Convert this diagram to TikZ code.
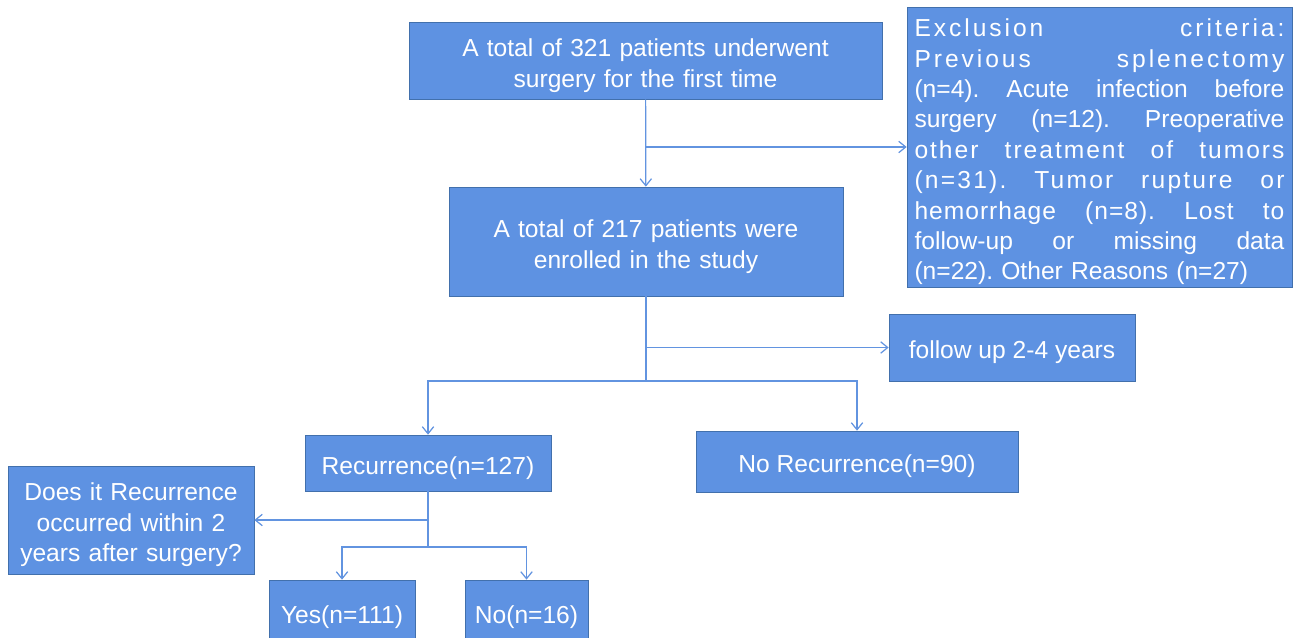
\documentclass[tikz,border=0pt]{standalone}
\usepackage{fontspec}
\setmainfont{Liberation Sans}
\usetikzlibrary{arrows,arrows.meta,shapes}
\definecolor{boxblue}{RGB}{94,146,226}
\definecolor{boxedge}{RGB}{66,112,172}
\definecolor{linkblue}{RGB}{98,148,224}
\newcommand{\exline}[1]{\leavevmode\hbox to 7.4cm{#1}}
\newcommand{\wide}[2][12]{{\addfontfeature{LetterSpace=#1}#2}}

\begin{document}
\begin{tikzpicture}[x=0.02cm,y=-0.02cm]

			\tikzstyle{every node}=[font=\fontsize{14}{17.3}\selectfont]
			\tikzstyle{box}=[rectangle, draw=boxedge, fill=boxblue, text=white, align=center, inner sep=0pt,
				execute at begin node={\rule{0pt}{15.8pt}}]
			\tikzstyle{link}=[-{Straight Barb[length=4pt,width=6.5pt]}, linkblue, line width=0.7pt]

			\useasboundingbox (0,0) rectangle (1301,637);

			\node[box, minimum width=9.46cm, minimum height=1.54cm, text width=9cm] (total) at (645.5,60.5) {A total of 321 patients underwent\\surgery for the first time};
			\node[box, minimum width=7.88cm, minimum height=2.18cm, text width=7.5cm] (enrolled) at (646,241.5) {A total of 217 patients were\\enrolled in the study};
			\node[box, minimum width=7.7cm, minimum height=5.6cm, text width=7.4cm, align=left] (excl) at (1099.5,147) {\frenchspacing
				\exline{\wide{Exclusion}\hfill\wide{criteria:}}\\
				\exline{\wide{Previous}\hfill\wide{splenectomy}}\\
				\exline{(n=4).\hfill Acute\hfill infection\hfill before}\\
				\exline{surgery\hfill (n=12).\hfill Preoperative}\\
				\exline{\wide[8]{other}\hfill\wide[8]{treatment}\hfill\wide[8]{of}\hfill\wide[8]{tumors}}\\
				\exline{\wide[9]{(n=31).}\hfill\wide[9]{Tumor}\hfill\wide[9]{rupture}\hfill\wide[9]{or}}\\
				\exline{\wide[4]{hemorrhage}\hfill\wide[4]{(n=8).}\hfill\wide[4]{Lost}\hfill\wide[4]{to}}\\
				\exline{follow-up\hfill or\hfill missing\hfill data}\\
				(n=22). Other Reasons (n=27)};
			\node[box, minimum width=4.92cm, minimum height=1.34cm] (follow) at (1012,347.5) {follow up 2-4 years};
			\node[box, minimum width=4.92cm, minimum height=1.12cm] (recur) at (428,463) {Recurrence(n=127)};
			\node[box, minimum width=6.44cm, minimum height=1.22cm] (norecur) at (857,461.5) {No Recurrence(n=90)};
			\node[box, minimum width=4.92cm, minimum height=2.16cm, text width=4.8cm] (question) at (131,520) {Does it Recurrence\\occurred within 2\\years after surgery?};
			\node[box, minimum width=2.92cm, minimum height=1.3cm] (yes) at (342,612.5) {Yes(n=111)};
			\node[box, minimum width=2.46cm, minimum height=1.3cm] (no) at (526.5,612.5) {No(n=16)};

			% branch points
			\coordinate (split) at (646,381);
			\coordinate (split2) at (428,547);

			\draw[link] (total) -- (enrolled);
			\draw[link] (total.south |- excl.west) -- (excl.west);

			\draw[linkblue, line width=0.7pt] (enrolled.south) -- (split);
			\draw[link] (enrolled.south |- follow.west) -- (follow.west);
			\draw[link] (split) -| (recur);
			\draw[link] (split) -| (norecur);

			\draw[linkblue, line width=0.7pt] (recur.south) -- (split2);
			\draw[link] (recur.south |- question.east) -- (question.east);
			\draw[link] (split2) -| (yes);
			\draw[link] (split2) -| (no);

\end{tikzpicture}
\end{document}
